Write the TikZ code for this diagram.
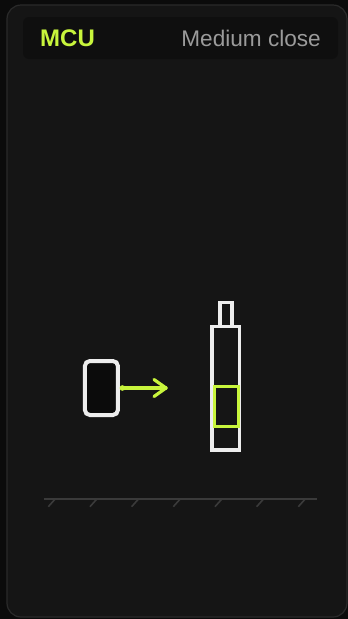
\documentclass[tikz,border=0pt]{standalone}
\usepackage{fontspec}
\setmainfont{Liberation Sans}
\usetikzlibrary{positioning}

\definecolor{pagebg}{HTML}{0B0B0B}
\definecolor{cardbg}{HTML}{151515}
\definecolor{cardline}{HTML}{2A2A2A}
\definecolor{barbg}{HTML}{0F0F0F}
\definecolor{lime}{HTML}{C8F53C}
\definecolor{greytxt}{HTML}{9B9B9B}
\definecolor{groundcol}{HTML}{3A3A3A}
\definecolor{iconline}{HTML}{EDEDED}

\begin{document}
\begin{tikzpicture}[
  x=1pt, y=-1pt,
  card/.style={draw=cardline, fill=cardbg, line width=1.2pt, rounded corners=14pt},
  bar/.style={fill=barbg, rounded corners=6pt},
  title/.style={font=\fontsize{24}{28}\selectfont\bfseries, text=lime, inner sep=0pt},
  subtitle/.style={font=\fontsize{22.6}{26}\selectfont, text=greytxt, inner sep=0pt},
  phone/.style={
    draw=iconline,
    fill=pagebg,
    line width=4pt,
    rounded corners=5pt,
    minimum width=33pt,
    minimum height=54pt,
    inner sep=0pt
  },
  boom/.style={draw=iconline, line width=3.4pt, inner sep=0pt},
  frame/.style={draw=lime, line width=3pt, inner sep=0pt},
  arr/.style={draw=lime, line width=3.2pt, line cap=round},
  ground/.style={draw=groundcol, line width=2.2pt},
  hatch/.style={draw=groundcol, line width=1.6pt}
]

% -------------------------------------------------
% Page and card
% -------------------------------------------------
\useasboundingbox (0,0) rectangle (348,619);
\fill[pagebg] (0,0) rectangle (348,619);
\draw[card] (7,5) rectangle (347,617);

% -------------------------------------------------
% HEADER
% -------------------------------------------------
\fill[bar] (23,17) rectangle (338,59);
\node[title, anchor=base west] (shot) at (40,46) {MCU};
\node[subtitle, anchor=base east] (shotname) at (321,46) {Medium close};

% -------------------------------------------------
% Camera (phone) and subject
% -------------------------------------------------
\node[phone] (cam) at (101.4,388) {};

\node[boom, minimum width=12pt, minimum height=24pt] (head) at (225.8,314.3) {};
\node[boom, minimum width=27.3pt, minimum height=123.7pt] (body) at (225.8,388.3) {};
\node[frame, minimum width=24pt, minimum height=40pt] (crop) at (226,406) {};

% -------------------------------------------------
% ARROW: camera -> subject
% -------------------------------------------------
\coordinate (aim) at (166,388);
\fill[lime] ([xshift=2.5pt]cam.east) circle (2.8pt);
\draw[arr] ([xshift=2.5pt]cam.east) -- (aim);
\draw[arr, line join=round] (aim) ++(-12,-8.5) -- (aim) -- ++(-12,8.5);

% -------------------------------------------------
% GROUND
% -------------------------------------------------
\coordinate (g1) at (44,498.7);
\coordinate (g2) at (316.7,498.7);
\draw[ground] (g1) -- (g2);
\foreach \i in {0,...,6}
  \draw[hatch] (48.3+41.67*\i,506.7) -- ++(6.7,-7.5);

\end{tikzpicture}
\end{document}
